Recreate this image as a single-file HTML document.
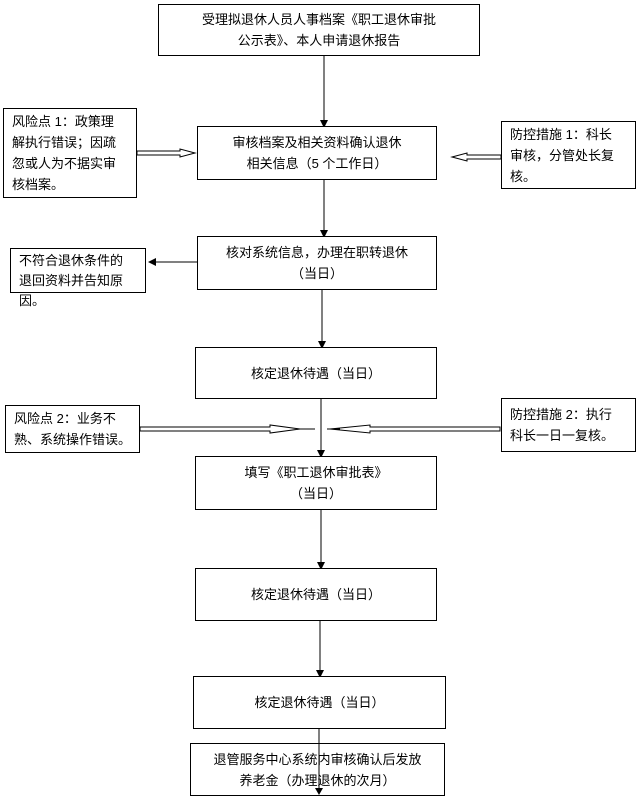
<!DOCTYPE html>
<html><head><meta charset="utf-8"><style>
body{margin:0;width:640px;height:799px;background:#fff;position:relative;font-family:"Liberation Sans","Noto Sans CJK SC",sans-serif;font-size:13px;color:#000;overflow:hidden}
.b{position:absolute;border:1px solid #000;box-sizing:border-box;background:#fff;display:flex;align-items:center;justify-content:center;text-align:center;line-height:21px}
.l{text-align:left;justify-content:flex-start;padding:0 8px}
svg{position:absolute;left:0;top:0}
</style></head><body>
<svg width="640" height="799">
<g stroke="#000" stroke-width="1" fill="none">
<line x1="324" y1="56" x2="324" y2="120"/>
<line x1="324" y1="180" x2="324" y2="230"/>
<line x1="322" y1="290" x2="322" y2="341"/>
<line x1="321" y1="399" x2="321" y2="450"/>
<line x1="321" y1="510" x2="321" y2="562"/>
<line x1="320" y1="621" x2="320" y2="670"/>
<line x1="319" y1="729" x2="319" y2="788"/>
<line x1="197" y1="262" x2="156" y2="262"/>
<path d="M137 151H180V149L195 153L180 157V155H137Z"/>
<path d="M501 155H467V153L452 157L467 161V159H501Z"/>
<path d="M140 427H270V425L300 429L270 433V431H140Z"/>
<path d="M500 427H370V425L330 429L370 433V431H500Z"/>
<line x1="300" y1="429" x2="315" y2="429"/>
<line x1="327" y1="429" x2="340" y2="429"/>
</g>
<g fill="#000">
<path d="M320 120h8l-4 8z"/><path d="M320 230h8l-4 8z"/><path d="M318 341h8l-4 8z"/>
<path d="M317 450h8l-4 8z"/><path d="M317 562h8l-4 8z"/><path d="M316 670h8l-4 8z"/><path d="M315 788h8l-4 7z"/>
<path d="M156 258v8l-8-4z"/>
</g>
</svg>
<div class="b" style="left:158px;top:4px;width:322px;height:52px">受理拟退休人员人事档案《职工退休审批<br>公示表》、本人申请退休报告</div>
<div class="b" style="left:197px;top:126px;width:240px;height:54px">审核档案及相关资料确认退休<br>相关信息（5 个工作日）</div>
<div class="b l" style="left:3px;top:108px;width:134px;height:90px">风险点 1：政策理<br>解执行错误；因疏<br>忽或人为不据实审<br>核档案。</div>
<div class="b l" style="left:501px;top:121px;width:135px;height:68px">防控措施 1：科长<br>审核，分管处长复<br>核。</div>
<div class="b" style="left:197px;top:236px;width:240px;height:54px">核对系统信息，办理在职转退休<br>（当日）</div>
<div class="b l" style="left:10px;top:248px;width:136px;height:45px;line-height:20px;align-items:flex-start;padding-top:2px">不符合退休条件的<br>退回资料并告知原<br>因。</div>
<div class="b" style="left:195px;top:347px;width:242px;height:52px">核定退休待遇（当日）</div>
<div class="b l" style="left:5px;top:405px;width:135px;height:48px">风险点 2：业务不<br>熟、系统操作错误。</div>
<div class="b l" style="left:501px;top:398px;width:135px;height:54px">防控措施 2：执行<br>科长一日一复核。</div>
<div class="b" style="left:195px;top:456px;width:242px;height:54px">填写《职工退休审批表》<br>（当日）</div>
<div class="b" style="left:195px;top:568px;width:242px;height:53px">核定退休待遇（当日）</div>
<div class="b" style="left:193px;top:676px;width:253px;height:53px">核定退休待遇（当日）</div>
<div class="b" style="left:190px;top:743px;width:255px;height:53px;background:transparent">退管服务中心系统内审核确认后发放<br>养老金（办理退休的次月）</div>
</body></html>
